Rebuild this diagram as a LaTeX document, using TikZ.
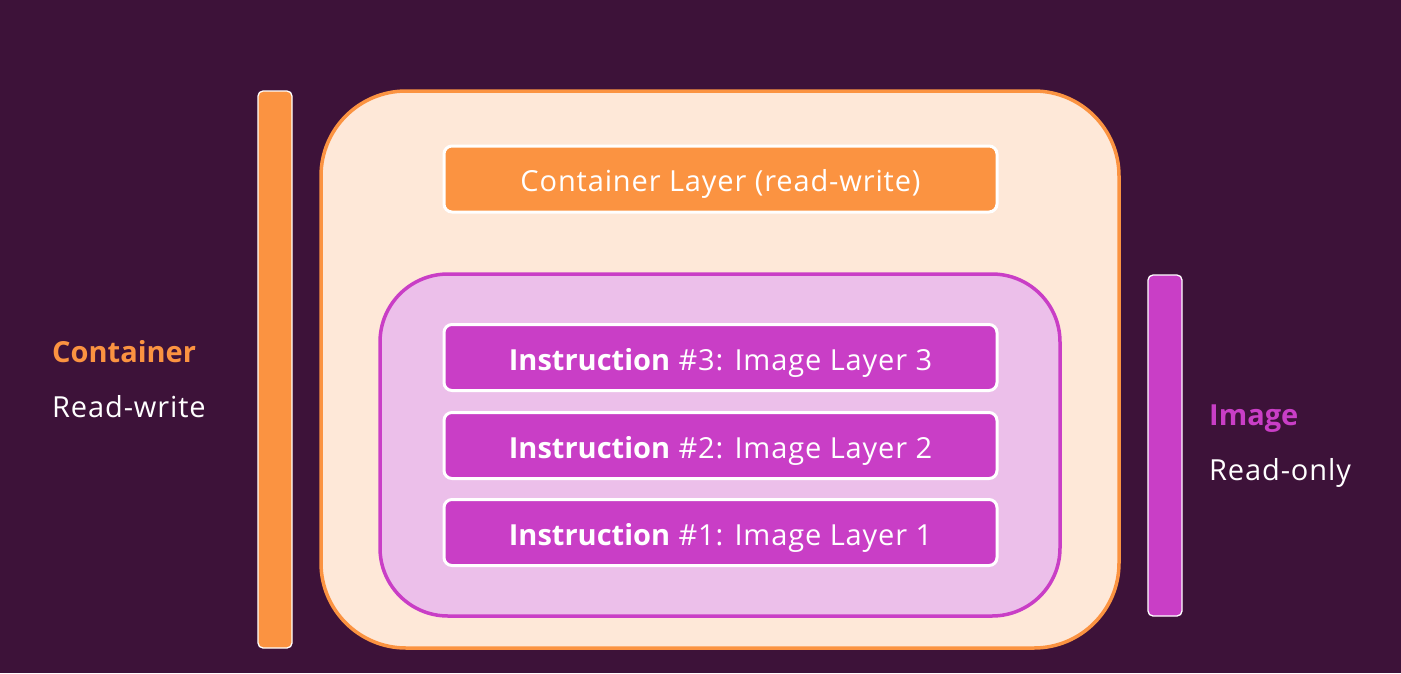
\documentclass[tikz,border=0pt]{standalone}
\usepackage{fontspec}
\setmainfont{Open Sans}[LetterSpace=3,BoldFeatures={LetterSpace=0}]
\definecolor{bgplum}{HTML}{3D1239}
\definecolor{orangeL}{HTML}{FB9341}
\definecolor{peach}{HTML}{FEE8D8}
\definecolor{magentaL}{HTML}{C93EC6}
\definecolor{lilac}{HTML}{ECBFEA}
\begin{document}
\begin{tikzpicture}[x=1pt,y=-1pt,
  bar/.style={draw=white,line width=1.3pt,rounded corners=5pt},
  layerbox/.style={draw=white,line width=3pt,rounded corners=8pt,minimum width=553pt,minimum height=66pt,inner sep=0pt,text height=25pt,text depth=0pt,text=white,font=\fontsize{29}{32}\selectfont},
  sidehead/.style={anchor=base west,inner sep=0pt,font=\fontsize{29}{32}\selectfont\bfseries},
  sidesub/.style={anchor=base west,inner sep=0pt,text=white,font=\fontsize{29}{32}\selectfont}]
  % canvas
  \fill[bgplum] (0,0) rectangle (1401,673);
  \useasboundingbox (0,0) rectangle (1401,673);
  % side bars
  \draw[bar,fill=orangeL] (258,91) rectangle (292,648);
  \draw[bar,fill=magentaL] (1148,275) rectangle (1182,616);
  % container and image frames
  \draw[draw=orangeL,fill=peach,line width=3.5pt,rounded corners=85pt] (321,91) rectangle (1119,648);
  \draw[draw=magentaL,fill=lilac,line width=3.5pt,rounded corners=68pt] (380,274) rectangle (1060,616);
  % layers
  \node[layerbox,fill=orangeL] (cl) at (720.5,179) {Container Layer (read-write)};
  \node[layerbox,fill=magentaL] (i3) at (720.5,357.5) {\textbf{Instruction} \#3: Image Layer 3};
  \node[layerbox,fill=magentaL] (i2) at (720.5,445.5) {\textbf{Instruction} \#2: Image Layer 2};
  \node[layerbox,fill=magentaL] (i1) at (720.5,532.5) {\textbf{Instruction} \#1: Image Layer 1};
  % side labels
  \node[sidehead,text=orangeL] (ch) at (52,362) {Container};
  \node[sidesub] (cs) at (52,417) {Read-write};
  \node[sidehead,text=magentaL] (ih) at (1209,425) {Image};
  \node[sidesub] (is) at (1209,480) {Read-only};
\end{tikzpicture}
\end{document}
